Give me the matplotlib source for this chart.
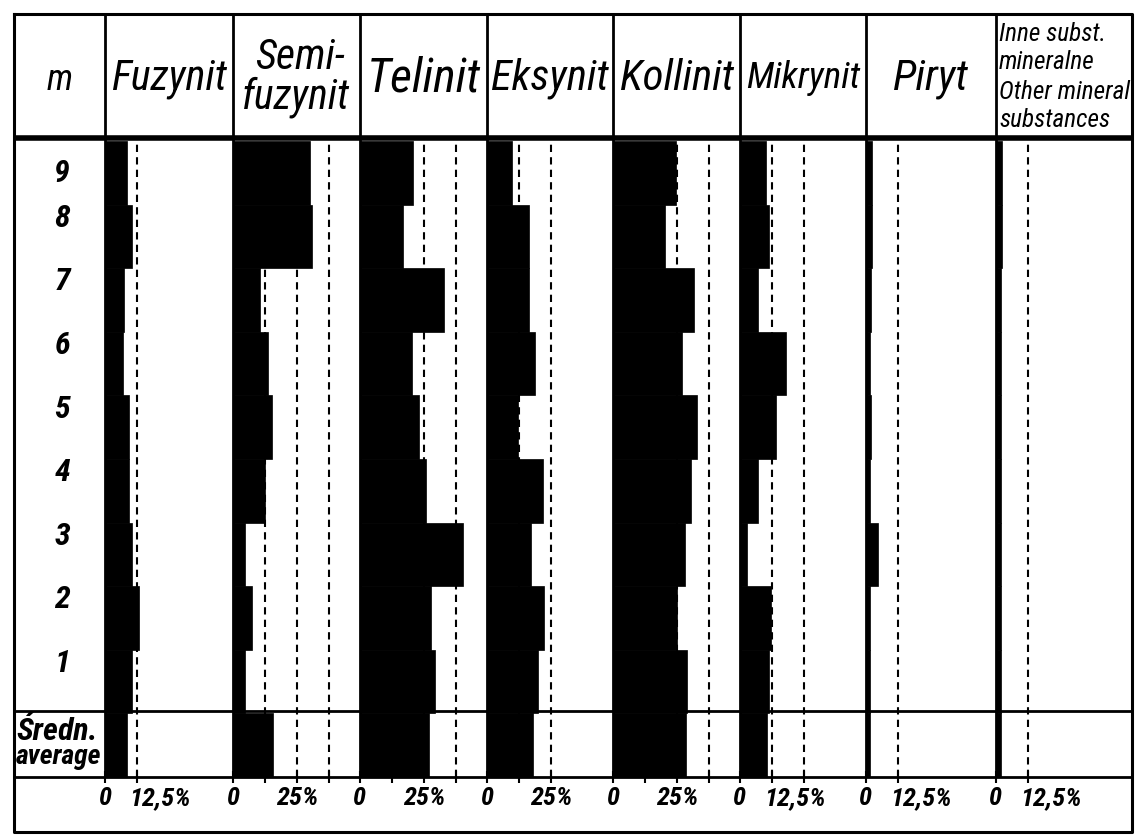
import matplotlib
matplotlib.use('Agg')
import matplotlib.pyplot as plt
from matplotlib import font_manager

# sample depth (m), bottom to top
metres = [1, 2, 3, 4, 5, 6, 7, 8, 9]

# share of each component in every sample (%), same order as metres
fuzynit = [10.6, 13.2, 10.6, 9.5, 9.3, 7.1, 7.5, 10.4, 8.4]
semifuzynit = [4.8, 7.5, 4.8, 12.3, 15.0, 13.6, 10.4, 30.9, 30.0]
telinit = [29.2, 27.6, 40.2, 25.7, 22.8, 20.1, 32.8, 16.6, 20.7]
eksynit = [19.7, 22.3, 17.1, 21.9, 12.1, 18.7, 16.3, 16.3, 9.6]
kollinit = [28.9, 24.8, 28.0, 30.2, 32.6, 26.7, 31.5, 20.2, 24.4]
mikrynit = [11.4, 12.1, 2.6, 6.9, 13.9, 17.8, 6.9, 11.3, 10.0]
piryt = [1.6, 1.6, 4.7, 1.4, 2.0, 1.6, 2.0, 2.2, 2.2]
inne = [2.0, 2.0, 2.0, 2.0, 1.8, 1.8, 2.0, 2.2, 2.2]

# "Średn. / average" row, one value per column
averages = [8.6, 15.6, 26.8, 17.9, 28.4, 10.5, 1.4, 1.8]

series = [fuzynit, semifuzynit, telinit, eksynit, kollinit, mikrynit, piryt, inne]

# dashed reference lines (%) and the labelled scale value of each column
guides = [[12.5], [12.5, 25, 37.5], [25, 37.5], [12.5, 25], [25, 37.5], [12.5, 25], [12.5], [12.5]]
scale_values = [12.5, 25, 25, 25, 25, 12.5, 12.5, 12.5]
scale_labels = ['12,5%', '25%', '25%', '25%', '25%', '12,5%', '12,5%', '12,5%']

headers = ['Fuzynit', 'Telinit', 'Eksynit', 'Kollinit', 'Mikrynit', 'Piryt']
inne_lines = ['Inne subst.', 'mineralne', 'Other mineral', 'substances']

# pick a narrow face if one is installed, it is closer to the hand lettering
available = {f.name for f in font_manager.fontManager.ttflist}
FONT = next(f for f in ['Liberation Sans Narrow', 'DejaVu Sans Condensed', 'Roboto Condensed',
                        'Liberation Sans', 'DejaVu Sans'] if f in available)

W, H = 1135, 837
fig = plt.figure(figsize=(W / 100, H / 100), dpi=100)
renderer = fig.canvas.get_renderer()

frame = fig.add_axes([0, 0, 1, 1], zorder=5)
frame.set_xlim(0, W)
frame.set_ylim(H, 0)
frame.axis('off')

# table geometry in pixels
edges = [105, 233, 360, 487, 613, 740, 866, 996, 1132]
px_per_pct = 2.57
top, head_bot, data_top, mid, bottom, end = 15, 139, 142, 712, 778, 833
left = 14


def px_axes(x0, x1, y0, y1):
    return fig.add_axes([x0 / W, 1 - y1 / H, (x1 - x0) / W, (y1 - y0) / H])


def fit(t, width):
    w = t.get_window_extent(renderer).width
    t.set_fontsize(t.get_fontsize() * width / w)
    return t


head = dict(family=FONT, style='italic', color='black', va='center')
bold = dict(family=FONT, style='italic', weight='bold', color='black')

lbl_size = 19

# one axes per column, rows 1..9 plus the average at position 0
for i, vals in enumerate(series):
    ax = px_axes(edges[i], edges[i + 1], data_top, bottom)
    ax.set_xlim(0, (edges[i + 1] - edges[i]) / px_per_pct)
    ax.set_ylim(-0.5, 9.5)
    ax.barh([0] + metres, [averages[i]] + vals, height=1.0, color='black',
            edgecolor='black', linewidth=0.5, zorder=3)
    for g in guides[i]:
        ax.axvline(g, color='black', lw=1.5, dashes=(3.5, 2.5), zorder=1)
    ticks = [0, 12.5, 25, 37.5][:int(max(guides[i]) / 12.5) + 1]
    ax.set_xticks(ticks)
    ax.set_yticks([])
    ax.tick_params(axis='x', direction='inout', length=8, width=1.5, labelbottom=False)
    for s in ax.spines.values():
        s.set_visible(False)
    ax.annotate('0', (0, 0), xycoords=('data', 'axes fraction'), xytext=(0, -20),
                textcoords='offset pixels', ha='center', va='center', fontsize=lbl_size, **bold)
    is_small = scale_labels[i].startswith('12')
    ax.annotate(scale_labels[i], (scale_values[i], 0), xycoords=('data', 'axes fraction'),
                xytext=(-8 if is_small else 0, -20), textcoords='offset pixels',
                ha='left' if is_small else 'center', va='center', fontsize=lbl_size, **bold)

# depth labels in the first column
mx = px_axes(left, edges[0], data_top, bottom)
mx.set_ylim(-0.5, 9.5)
mx.axis('off')
label_pos = [m + (0.3 if m < 9 else 0.0) for m in metres]
for m, y in zip(metres, label_pos):
    mx.text(0.53, y, str(m), transform=mx.get_yaxis_transform(), ha='center', va='center',
            fontsize=23, **bold)
fit(frame.text(left + 2, 731, 'Średn.', ha='left', va='center', fontsize=14, **bold), 82)
fit(frame.text(left + 2, 757, 'average', ha='left', va='center', fontsize=14, **bold), 86)

# column headers
fit(frame.text(60, 80, 'm', ha='center', fontsize=30, **head), 26)
single = [0, 2, 3, 4, 5, 6]
widths = [116, 114, 118, 114, 114, 76]
for name, col, w in zip(headers, single, widths):
    fit(frame.text((edges[col] + edges[col + 1]) / 2, 78, name, ha='center', fontsize=24, **head), w)
fz = fit(frame.text(296, 97, 'fuzynit', ha='center', fontsize=24, **head), 108)
frame.text(300, 57, 'Semi-', ha='center', fontsize=fz.get_fontsize(), **head)

# the four lines of the last header share one size
probe = fit(frame.text(edges[7] + 3, 92, inne_lines[2], ha='left', fontsize=16, **head), 131)
for line, y in zip(inne_lines, [34, 62, 92, 120]):
    if line != inne_lines[2]:
        frame.text(edges[7] + 3, y, line, ha='left', fontsize=probe.get_fontsize(), **head)

# table rules
frame.plot([left, edges[-1], edges[-1], left, left], [top, top, end, end, top], color='black', lw=2.2)
frame.hlines(head_bot, left, edges[-1], color='black', lw=4)
frame.hlines([mid, bottom], left, edges[-1], color='black', lw=2)
frame.vlines(edges[:-1], top, bottom, color='black', lw=2)

fig.savefig('out.png', dpi=100, facecolor='white')
